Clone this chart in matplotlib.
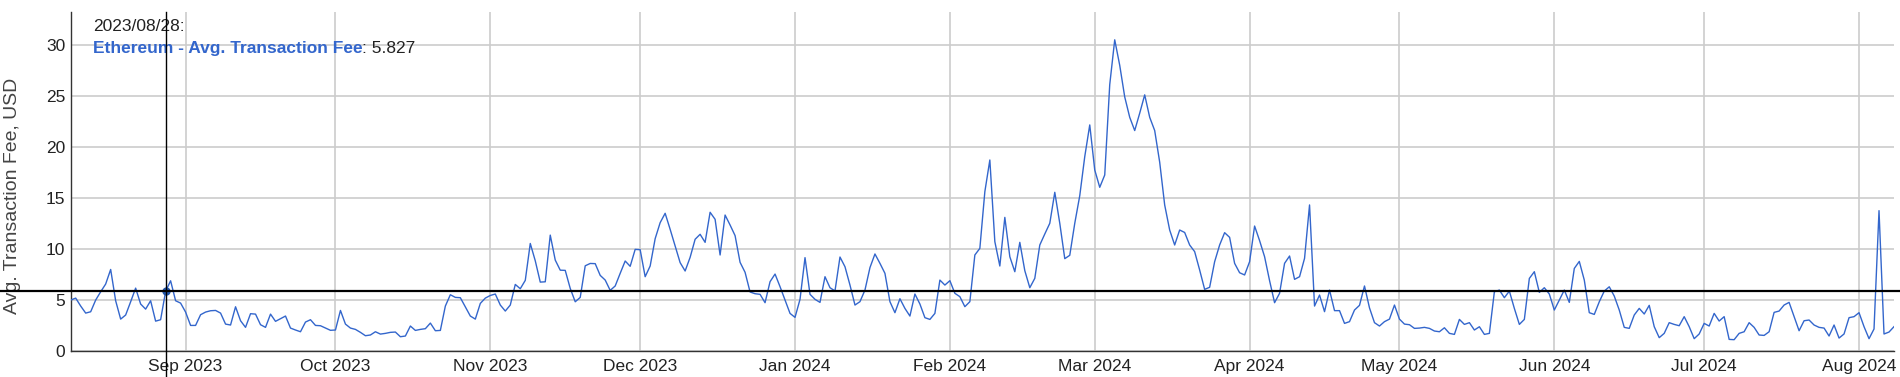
import matplotlib
matplotlib.use("Agg")
import matplotlib.pyplot as plt
import matplotlib.dates as mdates
from matplotlib.lines import Line2D
import matplotlib.transforms as mtransforms
import pandas as pd
import numpy as np

plt.rcParams['font.family'] = ['Liberation Sans', 'DejaVu Sans']

# ---- data: daily average Ethereum transaction fee (USD) ----
start_date = "2023-08-09"
end_date = "2024-08-08"
aug_2023 = [4.97, 5.16, 4.38, 3.69, 3.82, 4.97, 5.78, 6.54, 7.97, 4.9, 3.1, 3.5, 4.8, 6.14, 4.58,
            4.08, 4.9, 2.9, 3.04, 5.827, 6.86, 4.9, 4.67]
sep_2023 = [3.79, 2.48, 2.48, 3.53, 3.79, 3.92, 3.95, 3.69, 2.61, 2.52, 4.31, 2.94, 2.29, 3.63, 3.59,
            2.55, 2.29, 3.59, 2.88, 3.14, 3.4, 2.22, 2.03, 1.86, 2.81, 3.04, 2.48, 2.45, 2.22, 2.0]
oct_2023 = [2.03, 3.95, 2.61, 2.22, 2.09, 1.8, 1.47, 1.54, 1.86, 1.63, 1.7, 1.8, 1.83, 1.37, 1.44,
            2.42, 1.99, 2.09, 2.16, 2.71, 1.96, 1.99, 4.38, 5.49, 5.23, 5.2, 4.31, 3.4, 3.1, 4.64, 5.16]
nov_2023 = [5.42, 5.56, 4.48, 3.89, 4.48, 6.5, 6.08, 6.9, 10.52, 8.82, 6.73, 6.76, 11.34, 8.89, 7.9,
            7.88, 6.11, 4.8, 5.23, 8.33, 8.56, 8.54, 7.39, 6.93, 5.92, 6.35, 7.59, 8.8, 8.28, 9.94]
dec_2023 = [9.91, 7.26, 8.31, 10.99, 12.56, 13.48, 11.91, 10.27, 8.64, 7.82, 9.16, 10.93, 11.42, 10.63,
            13.58, 12.89, 9.39, 13.31, 12.33, 11.29, 8.67, 7.69, 5.76, 5.59, 5.53, 4.71, 6.77, 7.52,
            6.28, 4.97, 3.66]
jan_2024 = [3.27, 5.04, 9.13, 5.53, 5.04, 4.74, 7.26, 6.18, 5.86, 9.19, 8.24, 6.44, 4.48, 4.81, 5.95,
            8.15, 9.49, 8.57, 7.59, 4.81, 3.73, 5.1, 4.15, 3.4, 5.56, 4.58, 3.24, 3.07, 3.66, 6.93, 6.44]
feb_2024 = [6.87, 5.63, 5.3, 4.32, 4.81, 9.39, 10.04, 15.6, 18.71, 10.7, 8.31, 13.08, 9.22, 7.75, 10.63,
            7.85, 6.18, 7.1, 10.37, 11.45, 12.5, 15.54, 12.5, 9.03, 9.36, 12.5, 15.21, 19.04, 22.15]
mar_2024 = [17.73, 16.03, 17.24, 26.1, 30.5, 28.0, 24.9, 22.9, 21.6, 23.3, 25.1, 22.9, 21.6, 18.5, 14.3,
            11.84, 10.37, 11.84, 11.6, 10.37, 9.72, 7.92, 6.02, 6.22, 8.73, 10.37, 11.58, 11.12, 8.57,
            7.65, 7.43]
apr_2024 = [8.73, 12.23, 10.8, 9.22, 6.87, 4.71, 5.63, 8.57, 9.29, 7.0, 7.26, 9.06, 14.3, 4.38, 5.46,
            3.83, 5.95, 3.93, 3.93, 2.68, 2.85, 3.99, 4.45, 6.35, 4.2, 2.75, 2.42, 2.85, 3.1, 4.48]
may_2024 = [3.1, 2.61, 2.55, 2.19, 2.22, 2.29, 2.19, 1.93, 1.86, 2.25, 1.7, 1.6, 3.07, 2.58, 2.75,
            2.03, 2.35, 1.6, 1.7, 5.78, 5.95, 5.2, 5.85, 4.15, 2.58, 3.07, 7.09, 7.75, 5.72, 6.18, 5.56]
jun_2024 = [3.99, 4.97, 5.95, 4.74, 8.07, 8.76, 6.93, 3.73, 3.56, 4.8, 5.85, 6.27, 5.36, 3.99, 2.29,
            2.19, 3.5, 4.15, 3.6, 4.45, 2.36, 1.28, 1.7, 2.75, 2.58, 2.45, 3.34, 2.36, 1.18, 1.64]
jul_2024 = [2.68, 2.42, 3.66, 2.91, 3.34, 1.11, 1.08, 1.7, 1.86, 2.75, 2.29, 1.54, 1.5, 1.86, 3.76,
            3.89, 4.48, 4.74, 3.34, 1.96, 2.94, 3.01, 2.52, 2.29, 2.22, 1.44, 2.52, 1.24, 1.64, 3.24, 3.34]
aug_2024 = [3.73, 2.36, 1.18, 2.13, 13.74, 1.64, 1.83, 2.36]

y_ticks = [0, 5, 10, 15, 20, 25, 30]
y_label = "Avg. Transaction Fee, USD"
series_name = "Ethereum - Avg. Transaction Fee"
hover_date = "2023-08-28"
hover_label = "2023/08/28:"

values = (aug_2023 + sep_2023 + oct_2023 + nov_2023 + dec_2023 + jan_2024 + feb_2024 +
          mar_2024 + apr_2024 + may_2024 + jun_2024 + jul_2024 + aug_2024)
dates = pd.date_range(start_date, end_date, freq="D")
series = pd.Series(values, index=dates)

W, H, DPI = 1900, 377, 100
fig = plt.figure(figsize=(W / DPI, H / DPI), dpi=DPI)
ax = fig.add_axes([70.7 / W, 1 - 350.7 / H, (1894 - 70.7) / W, (350.7 - 12.3) / H])

line_color = "#3366cc"
ax.plot(series.index, series.values, color=line_color, lw=1.0, zorder=3)

ax.set_ylim(0, 33.2)
ax.set_xlim(pd.Timestamp(start_date), pd.Timestamp(end_date))
ax.set_yticks(y_ticks)
ax.set_yticklabels([str(t) for t in y_ticks])

ax.xaxis.set_major_locator(mdates.MonthLocator())
ax.xaxis.set_major_formatter(mdates.DateFormatter("%b %Y"))

ax.grid(True, color="#cccccc", lw=1.2)
ax.set_axisbelow(True)
for s in ["top", "right"]:
    ax.spines[s].set_visible(False)
ax.spines["left"].set_color("#333333")
ax.spines["bottom"].set_color("#333333")
ax.spines["left"].set_linewidth(1.0)
ax.spines["bottom"].set_linewidth(1.0)
ax.tick_params(axis="both", length=0, labelsize=12.5, colors="#222222")
ax.tick_params(axis="y", pad=4)
ax.tick_params(axis="x", pad=6)

fig.text(12.3 / W, 1 - 196 / H, y_label, rotation=90, ha="center", va="center",
         fontsize=14, color="#444444")

# crosshair
hx = mdates.date2num(pd.Timestamp(hover_date))
hy = series[hover_date]
tv = mtransforms.blended_transform_factory(ax.transData, fig.transFigure)
fig.add_artist(Line2D([hx, hx], [0, 1 - 12.3 / H], transform=tv, color="black", lw=1.0, zorder=5))
th = mtransforms.blended_transform_factory(fig.transFigure, ax.transData)
fig.add_artist(Line2D([0, 1], [hy, hy], transform=th, color="black", lw=1.6, zorder=5))
ax.plot([hx], [hy], "o", color="#2255aa", ms=5, zorder=6, clip_on=False)

# hover tooltip text
fig.text(92.7 / W, 1 - 26.7 / H, hover_label, ha="left", va="center", fontsize=12.5, color="#222222")
t1 = fig.text(92.7 / W, 1 - 48.3 / H, series_name, ha="left", va="center", fontsize=12.5,
              color=line_color, fontweight="bold")
fig.canvas.draw()
bb = t1.get_window_extent()
fig.text(bb.x1 / W, 1 - 48.3 / H, ": %.3f" % hy, ha="left", va="center", fontsize=12.5, color="#222222")

fig.savefig("out.png", dpi=DPI)
